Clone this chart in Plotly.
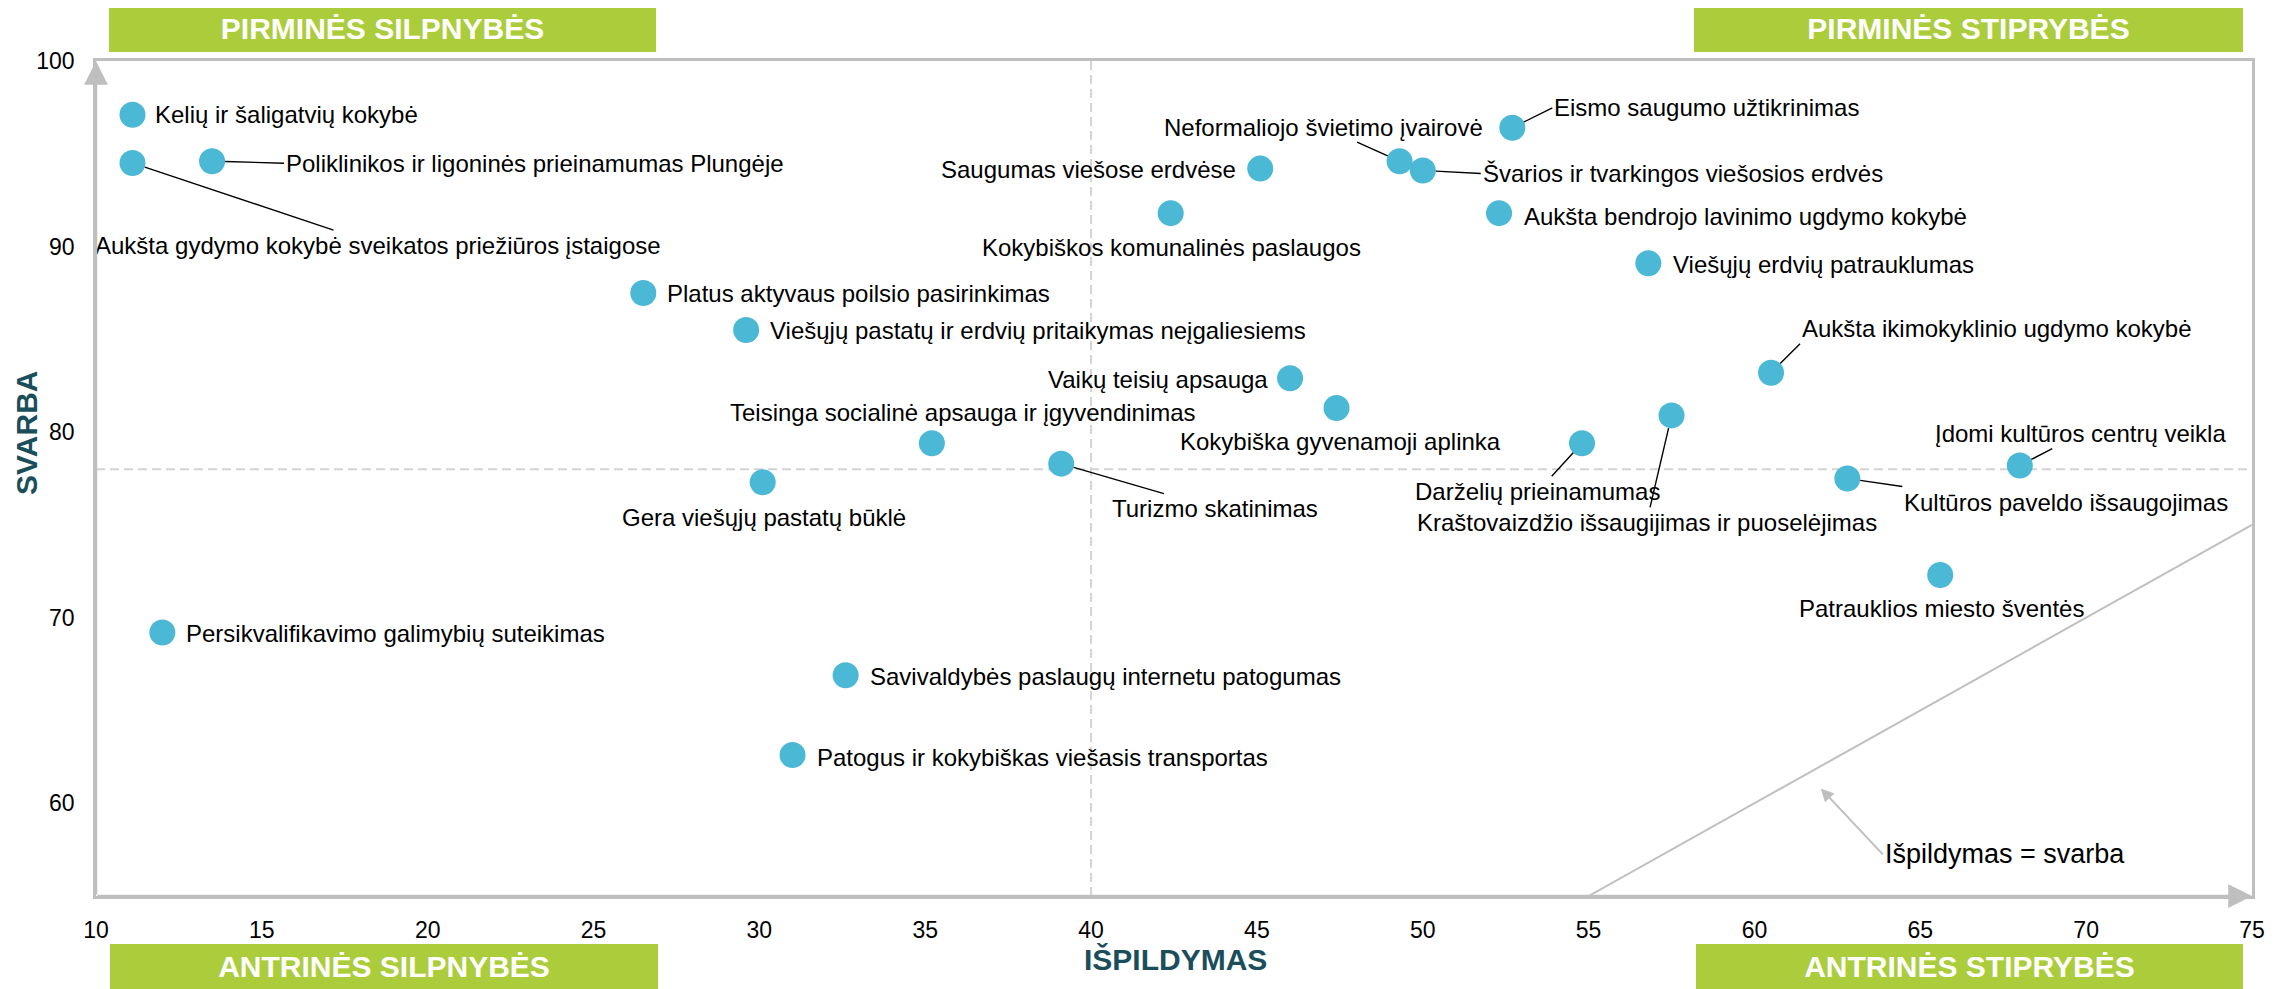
import plotly.graph_objects as go

# ---------------- DATA ----------------
names = [
    "Kelių ir šaligatvių kokybė",
    "Poliklinikos ir ligoninės prieinamumas Plungėje",
    "Aukšta gydymo kokybė sveikatos priežiūros įstaigose",
    "Platus aktyvaus poilsio pasirinkimas",
    "Viešųjų pastatų ir erdvių pritaikymas neįgaliesiems",
    "Teisinga socialinė apsauga ir įgyvendinimas",
    "Gera viešųjų pastatų būklė",
    "Turizmo skatinimas",
    "Persikvalifikavimo galimybių suteikimas",
    "Savivaldybės paslaugų internetu patogumas",
    "Patogus ir kokybiškas viešasis transportas",
    "Saugumas viešose erdvėse",
    "Kokybiškos komunalinės paslaugos",
    "Neformaliojo švietimo įvairovė",
    "Švarios ir tvarkingos viešosios erdvės",
    "Eismo saugumo užtikrinimas",
    "Aukšta bendrojo lavinimo ugdymo kokybė",
    "Viešųjų erdvių patrauklumas",
    "Aukšta ikimokyklinio ugdymo kokybė",
    "Vaikų teisių apsauga",
    "Kokybiška gyvenamoji aplinka",
    "Darželių prieinamumas",
    "Kraštovaizdžio išsaugijimas ir puoselėjimas",
    "Įdomi kultūros centrų veikla",
    "Kultūros paveldo išsaugojimas",
    "Patrauklios miesto šventės",
]
ispildymas = [11.1, 13.5, 11.1, 26.5, 29.6, 35.2, 30.1, 39.1, 12.0, 32.6, 31.0,
              45.1, 42.4, 49.3, 50.0, 52.7, 52.3, 56.8, 60.5, 46.0, 47.4,
              54.8, 57.5, 68.0, 62.8, 65.6]
svarba = [97.1, 94.6, 94.5, 87.5, 85.5, 79.4, 77.3, 78.3, 69.2, 66.9, 62.6,
          94.2, 91.8, 94.6, 94.1, 96.4, 91.8, 89.1, 83.2, 82.9, 81.3,
          79.4, 80.9, 78.2, 77.5, 72.3]

x_ticks = [10, 15, 20, 25, 30, 35, 40, 45, 50, 55, 60, 65, 70, 75]
y_ticks = [60, 70, 80, 90, 100]
x_range = [10, 75]
y_range = [55, 100]
x_threshold = 40
y_threshold = 78
equality_x = [55, 75]
equality_y = [55, 75]
equality_label = "Išpildymas = svarba"
equality_point = (62, 60.8)

quadrants = ["PIRMINĖS SILPNYBĖS", "PIRMINĖS STIPRYBĖS",
             "ANTRINĖS SILPNYBĖS", "ANTRINĖS STIPRYBĖS"]
x_title = "IŠPILDYMAS"
y_title = "SVARBA"

# ---------------- LABEL PLACEMENT (px offsets) ----------------
# (xanchor, yanchor, dx, dy, leader_line)
label_pos = [
    ("left", "middle", 21, 0, False),
    ("left", "middle", 72, 2, True),
    ("center", "middle", 246, 82, True),
    ("left", "middle", 22, 1, False),
    ("left", "middle", 22, 0, False),
    ("center", "middle", 31, -31, False),
    ("center", "middle", 1, 35, False),
    ("center", "middle", 154, 45, True),
    ("left", "middle", 22, 1, False),
    ("left", "middle", 22, 1, False),
    ("left", "middle", 22, 3, False),
    ("right", "middle", -22, 1, False),
    ("center", "middle", 1, 34, False),
    ("center", "middle", -76, -34, True),
    ("left", "middle", 58, 3, True),
    ("left", "middle", 40, -20, True),
    ("left", "middle", 23, 3, False),
    ("left", "middle", 23, 1, False),
    ("left", "bottom", 29, -29, True),
    ("right", "middle", -20, 1, False),
    ("center", "middle", 4, 34, False),
    ("center", "middle", -44, 48, True),
    ("center", "middle", -25, 107, True),
    ("center", "middle", 61, -32, True),
    ("left", "top", 55, 8, True),
    ("center", "middle", 1, 34, False),
]

FONT = "Liberation Sans, Arial, sans-serif"
GREEN = "#ABCD3B"
TEAL = "#1B4E5B"
GRAY = "#BFBFBF"
DOT = "#4BB8D6"

fig = go.Figure()

fig.add_trace(go.Scatter(
    x=equality_x, y=equality_y, mode="lines",
    line=dict(color=GRAY, width=2), hoverinfo="skip", showlegend=False,
))

fig.add_trace(go.Scatter(
    x=ispildymas, y=svarba, mode="markers", text=names,
    marker=dict(size=26, color=DOT, line=dict(width=0)),
    hoverinfo="text", showlegend=False,
))

annotations = []
for name, xv, yv, (xa, ya, dx, dy, leader) in zip(names, ispildymas, svarba, label_pos):
    if leader:
        annotations.append(dict(
            x=xv, y=yv, xref="x", yref="y", text=name, showarrow=True,
            ax=dx, ay=dy, xanchor=xa, yanchor=ya, arrowhead=0,
            arrowwidth=1.4, arrowcolor="#000000", standoff=13,
            font=dict(size=24, color="#000000", family=FONT),
        ))
    else:
        annotations.append(dict(
            x=xv, y=yv, xref="x", yref="y", text=name, showarrow=False,
            xanchor=xa, yanchor=ya, xshift=dx, yshift=-dy,
            font=dict(size=24, color="#000000", family=FONT),
        ))

# equality label
annotations.append(dict(
    x=equality_point[0], y=equality_point[1], xref="x", yref="y",
    text=equality_label, showarrow=True, ax=62, ay=66,
    xanchor="left", yanchor="middle", arrowhead=2, arrowsize=1.3,
    arrowwidth=2, arrowcolor=GRAY,
    font=dict(size=27, color="#000000", family=FONT),
))

# axis arrows
annotations.append(dict(
    x=x_range[1], y=y_range[0], ax=x_range[0], ay=y_range[0],
    xref="x", yref="y", axref="x", ayref="y", text="", showarrow=True,
    arrowhead=2, arrowsize=1.9, arrowwidth=2.5, arrowcolor=GRAY,
))
annotations.append(dict(
    x=x_range[0], y=y_range[1], ax=x_range[0], ay=y_range[0],
    xref="x", yref="y", axref="x", ayref="y", text="", showarrow=True,
    arrowhead=2, arrowsize=1.9, arrowwidth=2.5, arrowcolor=GRAY,
))

# quadrant banners
banner_font = dict(size=30, color="#FFFFFF", family=FONT, weight="bold")
banner_specs = [
    (quadrants[0], 0, 1, "left", "bottom", 13, 9, 547, 47),
    (quadrants[1], 1, 1, "right", "bottom", -9, 9, 549, 47),
    (quadrants[2], 0, 0, "left", "top", 14, -48, 548, 45),
    (quadrants[3], 1, 0, "right", "top", -9, -48, 547, 45),
]
for txt, px, py, xa, ya, xs, ys, w, h in banner_specs:
    annotations.append(dict(
        x=px, y=py, xref="paper", yref="paper", text=txt, showarrow=False,
        xanchor=xa, yanchor=ya, xshift=xs, yshift=ys, width=w, height=h,
        bgcolor=GREEN, borderpad=0, borderwidth=0, font=banner_font,
        align="center", valign="middle",
    ))

# axis titles
title_font = dict(size=30, color=TEAL, family=FONT, weight="bold")
annotations.append(dict(
    x=0.5005, y=0, xref="paper", yref="paper", text=x_title, showarrow=False,
    xanchor="center", yanchor="middle", yshift=-63, font=title_font,
))
annotations.append(dict(
    x=0, y=0.5545, xref="paper", yref="paper", text=y_title, showarrow=False,
    xanchor="center", yanchor="middle", xshift=-69, textangle=-90,
    font=title_font,
))

shapes = [
    dict(type="line", xref="x", yref="y", x0=x_threshold, x1=x_threshold,
         y0=y_range[0], y1=y_range[1], layer="below",
         line=dict(color="#D3D3D3", width=2, dash="9px,5px")),
    dict(type="line", xref="x", yref="y", x0=x_range[0], x1=x_range[1],
         y0=y_threshold, y1=y_threshold, layer="below",
         line=dict(color="#D3D3D3", width=2, dash="9px,5px")),
]

# the page body adds an 8px offset, so the figure is 8px smaller
fig.update_layout(
    width=2284, height=981,
    margin=dict(l=88, r=40, t=53, b=93, autoexpand=False),
    paper_bgcolor="#FFFFFF", plot_bgcolor="#FFFFFF",
    font=dict(family=FONT, size=22, color="#000000"),
    annotations=annotations, shapes=shapes, showlegend=False,
    xaxis=dict(range=x_range, tickvals=x_ticks, ticktext=[str(v) for v in x_ticks],
               showgrid=False, zeroline=False, showline=True, mirror=True,
               linecolor=GRAY, linewidth=2.5, ticks="", ticklabelstandoff=12,
               automargin=False,
               tickfont=dict(size=23, color="#000000", family=FONT)),
    yaxis=dict(range=y_range, tickvals=y_ticks, ticktext=[str(v) for v in y_ticks],
               showgrid=False, zeroline=False, showline=True, mirror=True,
               linecolor=GRAY, linewidth=2.5, ticks="", ticklabelstandoff=14,
               automargin=False,
               tickfont=dict(size=23, color="#000000", family=FONT)),
)

fig.write_html("out.html")
